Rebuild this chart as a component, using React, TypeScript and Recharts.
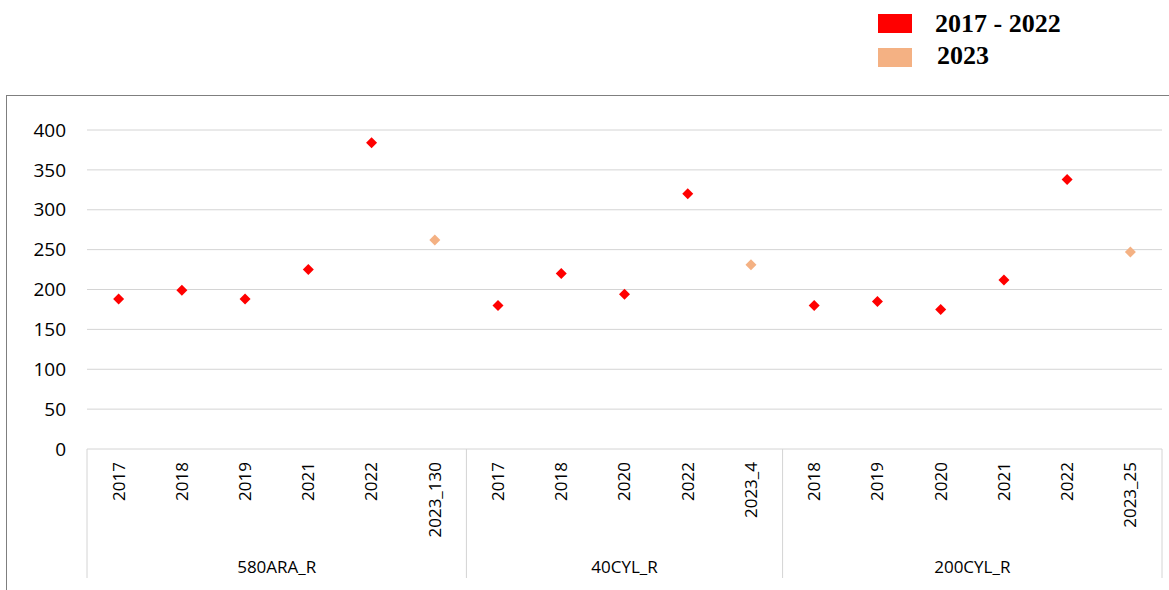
import { ComposedChart, Scatter, XAxis, YAxis, CartesianGrid, Legend } from "recharts";

const WIDTH = 1169;
const HEIGHT = 590;
const PLOT_LEFT = 87;
const PLOT_RIGHT = 1162;
const PLOT_TOP = 130;
const PLOT_BOTTOM = 449;
const SEP_BOTTOM = 578;
const YEAR_TOP = 462;
const GROUP_MID = 567;

const groups = ["580ARA_R", "40CYL_R", "200CYL_R"];
const groupYears = [
  ["2017", "2018", "2019", "2021", "2022", "2023_130"],
  ["2017", "2018", "2020", "2022", "2023_4"],
  ["2018", "2019", "2020", "2021", "2022", "2023_25"],
];
const values2017to2022 = [
  [188, 199, 188, 225, 384, null],
  [180, 220, 194, 320, null],
  [180, 185, 175, 212, 338, null],
];
const values2023 = [
  [null, null, null, null, null, 262],
  [null, null, null, null, 231],
  [null, null, null, null, null, 247],
];
const yTicks = [0, 50, 100, 150, 200, 250, 300, 350, 400];

const RED = "#ff0000";
const PEACH = "#f4b183";
const GRID = "#d4d4d4";
const AXIS_FONT = "'Open Sans', sans-serif";

type Row = {
  key: string;
  year: string;
  group: string;
  pos: number;
  size: number;
  past: number | null;
  recent: number | null;
};

const rows: Row[] = [];
groups.forEach((g, gi) => {
  groupYears[gi].forEach((yr, i) => {
    rows.push({
      key: `${g}|${yr}`,
      year: yr,
      group: g,
      pos: i,
      size: groupYears[gi].length,
      past: values2017to2022[gi][i],
      recent: values2023[gi][i],
    });
  });
});

const BAND = (PLOT_RIGHT - PLOT_LEFT) / rows.length;

const Diamond = (props: any) => {
  const { cx, cy, fill } = props;
  if (cx == null || cy == null || isNaN(cy)) return null;
  const r = 5.5;
  return (
    <polygon
      points={`${cx},${cy - r} ${cx + r},${cy} ${cx},${cy + r} ${cx - r},${cy}`}
      fill={fill}
    />
  );
};

// year labels, rotated, hanging just under the plot
const YearTick = (props: any) => {
  const { x, payload } = props;
  const row = rows.find((r) => r.key === payload.value);
  if (!row) return null;
  return (
    <text
      x={x}
      y={YEAR_TOP}
      dy="0.35em"
      textAnchor="end"
      transform={`rotate(-90, ${x}, ${YEAR_TOP})`}
      fontSize={17}
      fontFamily={AXIS_FONT}
      fill="#000"
    >
      {row.year}
    </text>
  );
};

// group names + the separator lines between groups
const GroupTick = (props: any) => {
  const { x, payload } = props;
  const row = rows.find((r) => r.key === payload.value);
  if (!row) return null;
  const left = x - BAND / 2;
  const isLast = row.key === rows[rows.length - 1].key;
  return (
    <g>
      {row.pos === 0 && (
        <line x1={left} x2={left} y1={PLOT_BOTTOM} y2={SEP_BOTTOM} stroke={GRID} />
      )}
      {isLast && (
        <line
          x1={x + BAND / 2}
          x2={x + BAND / 2}
          y1={PLOT_BOTTOM}
          y2={SEP_BOTTOM}
          stroke={GRID}
        />
      )}
      {row.pos === 0 && (
        <text
          x={left + (row.size * BAND) / 2}
          y={GROUP_MID}
          dy="0.35em"
          textAnchor="middle"
          fontSize={17}
          fontFamily={AXIS_FONT}
          fill="#000"
        >
          {row.group}
        </text>
      )}
    </g>
  );
};

const LegendBox = (props: any) => {
  const items = props.payload || [];
  return (
    <div style={{ position: "relative", width: WIDTH, height: 80 }}>
      {items.map((it: any, i: number) => (
        <div key={i}>
          <div
            style={{
              position: "absolute",
              left: 878,
              top: 14 + i * 34,
              width: 34,
              height: 19,
              background: it.color,
            }}
          />
          <div
            style={{
              position: "absolute",
              left: 935 + i * 2,
              top: 14 + i * 32,
              lineHeight: "19px",
              fontFamily: "'Liberation Serif', 'Times New Roman', serif",
              fontWeight: "bold",
              fontSize: 26,
              color: "#000",
              whiteSpace: "nowrap",
            }}
          >
            {it.value}
          </div>
        </div>
      ))}
    </div>
  );
};

export default function App() {
  return (
    <div style={{ position: "absolute", left: 0, top: 0, width: WIDTH, height: HEIGHT, overflow: "hidden", background: "#fff" }}>
      <div
        style={{
          position: "absolute",
          left: 6,
          top: 95,
          width: WIDTH,
          height: HEIGHT,
          borderLeft: "1px solid #7f7f7f",
          borderTop: "1px solid #7f7f7f",
        }}
      />
      <div style={{ position: "absolute", left: 0, top: 0 }}>
        <ComposedChart
          width={WIDTH}
          height={HEIGHT}
          data={rows}
          margin={{ top: PLOT_TOP, right: WIDTH - PLOT_RIGHT, bottom: 0, left: 0 }}
        >
          <CartesianGrid vertical={false} stroke={GRID} />
          <XAxis
            xAxisId="year"
            dataKey="key"
            type="category"
            scale="band"
            interval={0}
            height={90}
            tickSize={0}
            axisLine={false}
            tickLine={false}
            tick={<YearTick />}
          />
          <XAxis
            xAxisId="group"
            dataKey="key"
            type="category"
            scale="band"
            interval={0}
            height={HEIGHT - PLOT_BOTTOM - 90}
            tickSize={0}
            axisLine={false}
            tickLine={false}
            tick={<GroupTick />}
          />
          <YAxis
            domain={[0, 400]}
            ticks={yTicks}
            width={PLOT_LEFT}
            tickSize={0}
            tickMargin={21}
            axisLine={false}
            tickLine={false}
            tick={{ fontSize: 19, fill: "#000", fontFamily: AXIS_FONT }}
          />
          <Legend
            layout="horizontal"
            verticalAlign="middle"
            align="center"
            wrapperStyle={{ position: "absolute", top: 0, left: 0, width: WIDTH, height: 80 }}
            content={<LegendBox />}
          />
          <Scatter
            name="2017 - 2022"
            xAxisId="year"
            dataKey="past"
            fill={RED}
            shape={<Diamond />}
            isAnimationActive={false}
          />
          <Scatter
            name="2023"
            xAxisId="year"
            dataKey="recent"
            fill={PEACH}
            shape={<Diamond />}
            isAnimationActive={false}
          />
        </ComposedChart>
      </div>
    </div>
  );
}
